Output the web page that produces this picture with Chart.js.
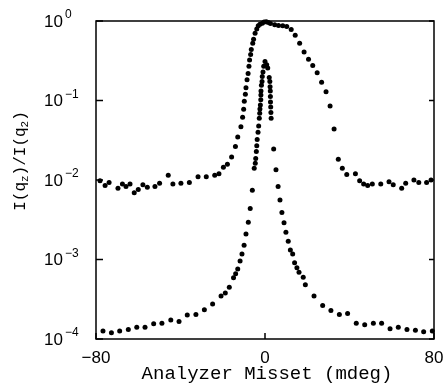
<!DOCTYPE html>
<html>
<head>
<meta charset="utf-8">
<script src="https://cdn.jsdelivr.net/npm/chart.js@4/dist/chart.umd.min.js"></script>
<style>
  html, body { margin:0; padding:0; background:#fff; }
  #wrap { width:447px; height:389px; }
</style>
</head>
<body>
<div id="wrap"><canvas id="c" width="447" height="389"></canvas></div>
<script>
// ---------- data ----------
// broad curve (upper, baseline ~1e-2)
const broadX = [-78.1,-75.7,-73.8,-69.6,-67.5,-65.8,-63.9,-61.9,-60.0,-57.8,-55.7,-52.1,-49.9,-45.8,-43.6,-39.8,-35.8,-31.7,-27.8,-23.8,-21.8,-19.7,-17.8,-15.8,-14.0,-12.9,-11.4,-10.6,-10.1,-9.8,-9.3,-9.0,-8.5,-8.0,-7.6,-7.3,-6.8,-6.5,-5.8,-5.4,-4.7,-3.9,-3.2,-2.4,-1.3,-0.4,0.6,1.6,2.6,4.6,6.4,8.4,10.3,12.4,14.3,16.4,18.5,20.6,22.6,24.7,26.8,28.9,30.8,32.7,34.7,36.6,38.7,42.8,44.8,46.7,48.6,50.8,54.8,58.7,60.7,64.7,66.6,70.5,72.8,76.5,78.6];
const broadY = [0.0098,0.0085,0.0093,0.0079,0.0089,0.0083,0.0089,0.0069,0.0076,0.0087,0.0081,0.0083,0.0091,0.0115,0.0089,0.0091,0.0093,0.0110,0.0110,0.0115,0.0120,0.0145,0.0158,0.0195,0.0263,0.0347,0.0468,0.0617,0.0776,0.0977,0.120,0.145,0.182,0.219,0.269,0.324,0.380,0.437,0.525,0.589,0.70,0.794,0.871,0.912,0.94,0.97,0.98,0.96,0.93,0.90,0.88,0.87,0.85,0.78,0.66,0.525,0.407,0.331,0.275,0.224,0.170,0.129,0.0851,0.0437,0.0182,0.0141,0.0117,0.0120,0.0098,0.0089,0.0085,0.0089,0.0089,0.0095,0.0087,0.0079,0.0091,0.0100,0.0093,0.0093,0.0100];

// narrow curve (lower, baseline ~1e-4)
const narrowX = [-76.7,-72.7,-68.8,-64.7,-60.7,-56.8,-52.7,-48.8,-44.6,-40.7,-36.8,-32.7,-28.7,-24.8,-20.8,-18.8,-16.9,-14.9,-13.9,-12.9,-11.8,-10.9,-9.9,-9.0,-7.9,-7.0,-6.0,-5.1,-4.6,-4.4,-4.1,-3.9,-3.7,-3.3,-3.0,-2.7,-2.5,-2.4,-2.2,-2.0,-1.95,-1.9,-1.7,-1.4,-1.3,-0.95,-0.6,0.0,0.8,1.3,2.0,2.3,2.4,2.5,2.55,2.6,2.7,2.8,2.9,4.1,5.2,6.2,7.1,8.0,9.0,9.9,11.0,12.0,13.1,14.0,15.1,16.1,18.1,19.1,23.2,27.3,31.2,35.2,39.1,43.2,47.2,51.3,55.2,59.2,63.1,67.2,71.2,75.1,79.2];
const narrowY = [1.26e-4,1.20e-4,1.26e-4,1.32e-4,1.41e-4,1.41e-4,1.55e-4,1.58e-4,1.74e-4,1.66e-4,2.00e-4,2.04e-4,2.34e-4,2.75e-4,3.47e-4,3.80e-4,4.47e-4,5.89e-4,6.61e-4,7.59e-4,9.55e-4,1.17e-3,1.51e-3,2.09e-3,2.95e-3,4.37e-3,7.41e-3,0.0141,0.0162,0.0186,0.0229,0.0269,0.0324,0.0398,0.0479,0.060,0.069,0.078,0.088,0.102,0.117,0.132,0.155,0.174,0.200,0.229,0.269,0.309,0.282,0.257,0.195,0.174,0.149,0.132,0.112,0.0955,0.083,0.0708,0.060,0.0245,0.0135,0.0083,0.0056,0.0039,0.0029,0.0022,0.0017,0.00132,0.00117,0.00091,0.00079,0.00069,0.00060,0.00048,0.000347,0.000263,0.000229,0.000204,0.000209,0.000158,0.000151,0.000158,0.000158,0.000135,0.000141,0.000132,0.000129,0.000123,0.000126];

const xTicks = [-80, 0, 80];
const yExps = [0, -1, -2, -3, -4];
const xTitle = 'Analyzer Misset (mdeg)';
// y title pieces: [text, isSubscript]
const yTitle = [['I(q',0],['z',1],[')/I(q',0],['2',1],[')',0]];

// ---------- frame, ticks and labels ----------
const decor = {
  id:'decor',
  afterDraw(chart){
    const ctx = chart.ctx, a = chart.chartArea;
    const xs = chart.scales.x, ys = chart.scales.y;
    ctx.save();
    ctx.strokeStyle = '#000'; ctx.lineWidth = 1.5;
    ctx.strokeRect(a.left, a.top, a.right-a.left, a.bottom-a.top);
    // inward ticks
    ctx.beginPath();
    yExps.forEach(e=>{
      const y = ys.getPixelForValue(Math.pow(10,e));
      ctx.moveTo(a.left, y); ctx.lineTo(a.left+7, y);
      ctx.moveTo(a.right, y); ctx.lineTo(a.right-5, y);
    });
    xTicks.forEach(v=>{
      const x = xs.getPixelForValue(v);
      ctx.moveTo(x, a.bottom); ctx.lineTo(x, a.bottom-6);
    });
    ctx.stroke();

    ctx.fillStyle = '#000';
    // y tick labels 10^n
    yExps.forEach(e=>{
      const y = ys.getPixelForValue(Math.pow(10,e));
      ctx.textAlign='left'; ctx.textBaseline='middle';
      ctx.font = '17px "Liberation Sans"';
      ctx.fillText('10', 44, y+1);
      const w = ctx.measureText('10').width;
      ctx.font = '12px "Liberation Sans"';
      ctx.fillText(e===0 ? '0' : '\u2212'+(-e), 44+w+2, y-6);
    });
    // x tick labels
    ctx.font = '17px "Liberation Sans"';
    ctx.textAlign='center'; ctx.textBaseline='middle';
    xTicks.forEach(v=>{
      const s = v<0 ? '\u2212'+(-v) : String(v);
      ctx.fillText(s, xs.getPixelForValue(v), 358);
    });
    // x title
    ctx.font = '19px "Liberation Mono"';
    ctx.textBaseline='alphabetic';
    ctx.fillText(xTitle, (a.left+a.right)/2+2, 379);
    // y title, rotated
    ctx.translate(21, 161);
    ctx.rotate(-Math.PI/2);
    ctx.textAlign='left'; ctx.textBaseline='middle';
    let total = 0;
    yTitle.forEach(([t,sub])=>{
      ctx.font = sub ? '11px "Liberation Mono"' : '16px "Liberation Mono"';
      total += ctx.measureText(t).width;
    });
    let cx = -total/2;
    yTitle.forEach(([t,sub])=>{
      ctx.font = sub ? '11px "Liberation Mono"' : '16px "Liberation Mono"';
      ctx.fillText(t, cx, sub ? 4 : 0);
      cx += ctx.measureText(t).width;
    });
    ctx.restore();
  }
};

const pts = (xs, ys) => xs.map((x,i)=>({x, y:ys[i]}));

new Chart(document.getElementById('c'), {
  type:'scatter',
  data:{ datasets:[
    {data:pts(broadX, broadY), backgroundColor:'#000', borderWidth:0, pointRadius:2.5, clip:false},
    {data:pts(narrowX, narrowY), backgroundColor:'#000', borderWidth:0, pointRadius:2.5, clip:false}
  ]},
  options:{
    responsive:false, animation:false,
    layout:{padding:{left:96, top:21, right:13, bottom:50}},
    plugins:{legend:{display:false}, tooltip:{enabled:false}},
    scales:{
      x:{type:'linear', min:-80, max:80, grid:{display:false}, border:{display:false},
         ticks:{display:false}, afterFit(s){ s.height = 0; }},
      y:{type:'logarithmic', min:1e-4, max:1, grid:{display:false}, border:{display:false},
         ticks:{display:false}, afterFit(s){ s.width = 0; }}
    }
  },
  plugins:[decor]
});
</script>
</body>
</html>
